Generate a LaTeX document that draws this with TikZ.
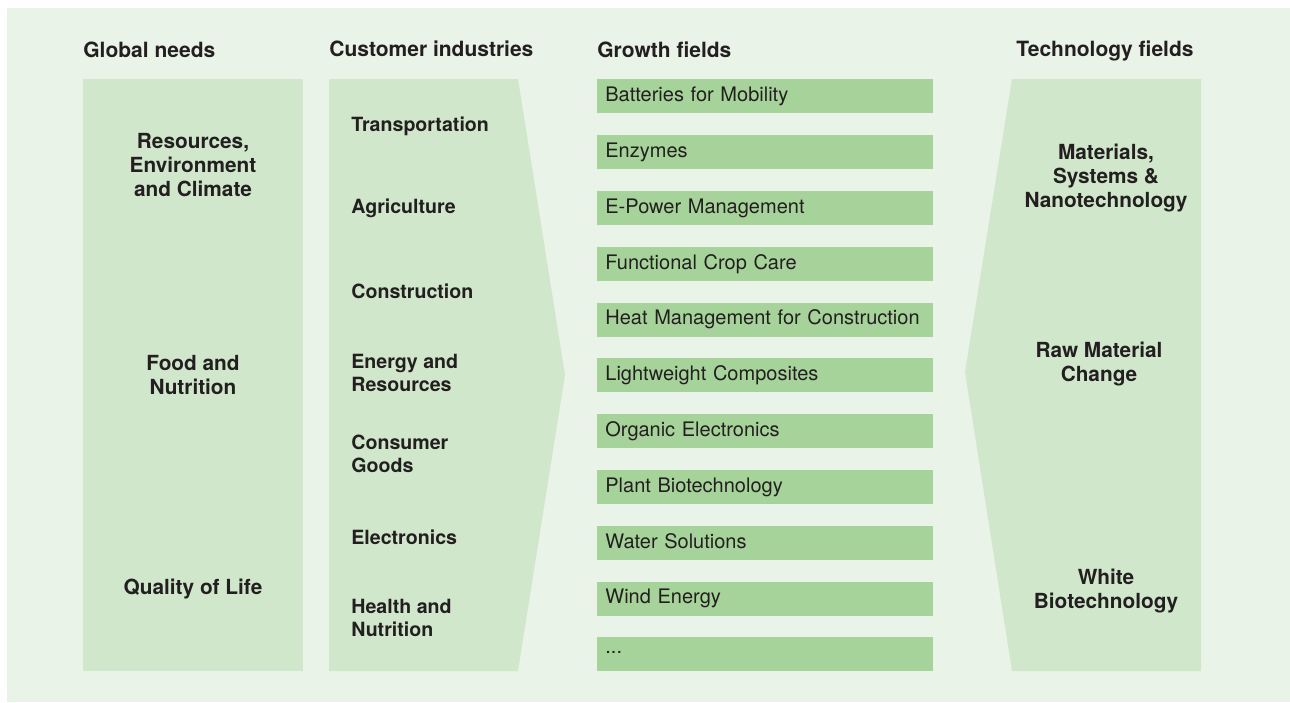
\documentclass[tikz,border=0pt]{standalone}
\usepackage{fontspec}
\setmainfont{TeX Gyre Heros}
\usetikzlibrary{positioning}
\definecolor{bggreen}{HTML}{EAF3E7}
\definecolor{panelgreen}{HTML}{D0E7CB}
\definecolor{fieldgreen}{HTML}{A6D399}
\definecolor{inkgray}{HTML}{231F20}

\tikzset{
  header/.style={anchor=west, inner sep=0pt, text=inkgray, font=\fontsize{10.5}{12.5}\selectfont\bfseries},
  needtext/.style={align=center, inner sep=0pt, text=inkgray, font=\fontsize{10.4}{12}\selectfont\bfseries},
  industrytext/.style={anchor=west, align=left, inner sep=0pt, text=inkgray, font=\fontsize{9.8}{11.6}\selectfont\bfseries},
  fieldbox/.style={anchor=north west, fill=fieldgreen, minimum width=168pt, minimum height=17pt,
    text width=160pt, inner xsep=4pt, inner ysep=0pt, align=left, text=inkgray,
    font=\fontsize{10}{12}\selectfont},
  techtext/.style={align=center, inner sep=0pt, text=inkgray, font=\fontsize{10.4}{12}\selectfont\bfseries}
}

\begin{document}
\begin{tikzpicture}[x=0.5pt, y=-0.5pt]

\useasboundingbox (0,0) rectangle (1290,702);

% Background
\fill[bggreen] (7,8) rectangle (1290,702);

%% Column headers
\node[header] (hneeds) at (83,50) {Global needs};
\node[header] (hindustries) at (329,49) {Customer industries};
\node[header] (hgrowth) at (597,50) {Growth fields};
\node[header, anchor=center] (htech) at (1105,51) {Technology fields};

%% Global needs panel
\fill[panelgreen] (83,79) rectangle (303,671);
\node[needtext] (resources) at (193,165) {Resources,\\Environment\\and Climate};
\node[needtext] (food) at (193,375) {Food and\\Nutrition};
\node[needtext] (quality) at (193,589) {Quality of Life};

%% Customer industries panel (arrow shape)
\fill[panelgreen] (329,79) -- (518,79) -- (565,375) -- (518,671) -- (329,671) -- cycle;
\node[industrytext] (transport) at (351,126) {Transportation};
\node[industrytext] (agri) at (351,208) {Agriculture};
\node[industrytext] (constr) at (351,291) {Construction};
\node[industrytext] (energy) at (351,373) {Energy and\\Resources};
\node[industrytext] (consumer) at (351,454) {Consumer\\Goods};
\node[industrytext] (electro) at (351,537) {Electronics};
\node[industrytext] (health) at (351,618) {Health and\\Nutrition};

%% Growth fields
\foreach \label [count=\i] in {Batteries for Mobility, Enzymes, E-Power Management,
    Functional Crop Care, Heat Management for Construction, Lightweight Composites,
    Organic Electronics, Plant Biotechnology, Water Solutions, Wind Energy, {{...}}}
  \node[fieldbox] (field\i) at (597,{79+55.8*(\i-1)}) {\raisebox{1.5pt}{\label}};

%% Technology fields panel (arrow shape)
\fill[panelgreen] (1012,79) -- (1201,79) -- (1201,671) -- (1012,671) -- (965,372) -- cycle;
\node[techtext] (materials) at (1106,178) {Materials,\\Systems \&\\Nanotechnology};
\node[techtext] (rawmat) at (1099,364) {Raw Material\\Change};
\node[techtext] (whitebio) at (1106,591) {White\\Biotechnology};

\end{tikzpicture}
\end{document}
